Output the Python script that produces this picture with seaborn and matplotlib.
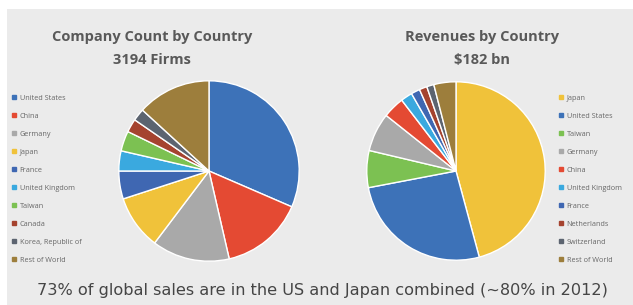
import matplotlib
matplotlib.use("Agg")
import matplotlib.pyplot as plt
import seaborn as sns
from matplotlib.lines import Line2D

# company count share by country (percent of 3194 firms)
count_labels = ["United States", "China", "Germany", "Japan", "France",
                "United Kingdom", "Taiwan", "Canada", "Korea, Republic of", "Rest of World"]
count_values = [31.5, 14.9, 13.9, 9.7, 5.0, 3.6, 3.6, 2.4, 2.2, 13.2]
count_colors = ["#3d72b8", "#e44a33", "#a9a9a9", "#f0c23a", "#3f67b2",
                "#3aa9df", "#7cc152", "#a5432f", "#5c6470", "#9d7e3c"]

# revenue share by country (percent of $182 bn)
rev_labels = ["Japan", "United States", "Taiwan", "Germany", "China",
              "United Kingdom", "France", "Netherlands", "Switzerland", "Rest of World"]
rev_values = [45.8, 26.2, 6.7, 7.0, 3.9, 2.1, 1.6, 1.4, 1.3, 4.0]
rev_colors = ["#f0c23a", "#3d72b8", "#7cc152", "#a9a9a9", "#e44a33",
              "#3aa9df", "#3f67b2", "#a5432f", "#5c6470", "#9d7e3c"]

footer = "73% of global sales are in the US and Japan combined (~80% in 2012)"

sns.set_style("white")
plt.rcParams["font.family"] = ["Open Sans", "DejaVu Sans"]

W, H = 633, 305
fig = plt.figure(figsize=(W / 100, H / 100), dpi=100)
fig.patch.set_facecolor("white")

# gray panel
panel = fig.add_axes([7 / W, 0, 1 - 7 / W, 1 - 9 / H])
panel.set_facecolor("#ebebeb")
panel.set_xticks([])
panel.set_yticks([])
for s in panel.spines.values():
    s.set_visible(False)


def draw_pie(cx, cy, r, values, colors):
    ax = fig.add_axes([(cx - r) / W, (H - cy - r) / H, 2 * r / W, 2 * r / H])
    ax.pie(values, colors=colors, startangle=90, counterclock=False,
           wedgeprops={"edgecolor": "white", "linewidth": 1.0})
    ax.set_xlim(-1.02, 1.02)
    ax.set_ylim(-1.02, 1.02)
    ax.set_aspect("equal")
    ax.axis("off")
    return ax


draw_pie(209, 171, 92, count_values, count_colors)
draw_pie(456, 171, 91, rev_values, rev_colors)

title_kw = dict(ha="center", va="center", fontsize=10.5, fontweight="bold", color="#595959")
fig.text(152 / W, 1 - 37 / H, "Company Count by Country", **title_kw)
fig.text(152 / W, 1 - 60 / H, "3194 Firms", **title_kw)
fig.text(482 / W, 1 - 37 / H, "Revenues by Country", **title_kw)
fig.text(482 / W, 1 - 60 / H, "$182 bn", **title_kw)


def draw_legend(labels, colors, x, y):
    handles = [Line2D([], [], marker="s", linestyle="", markersize=2.2,
                      color=c, label=l) for l, c in zip(labels, colors)]
    fig.legend(handles=handles, loc="upper left", bbox_to_anchor=(x / W, 1 - y / H),
               frameon=False, fontsize=5.2, labelspacing=1.52, handlelength=0.6,
               handletextpad=0.5, borderpad=0, labelcolor="#666666")


draw_legend(count_labels, count_colors, 8, 91)
draw_legend(rev_labels, rev_colors, 555, 91)

fig.text(322 / W, 1 - 291 / H, footer, ha="center", va="center",
         fontsize=11.6, color="#454545", family=["DejaVu Sans"])

fig.savefig("out.png", dpi=100, facecolor=fig.get_facecolor())
